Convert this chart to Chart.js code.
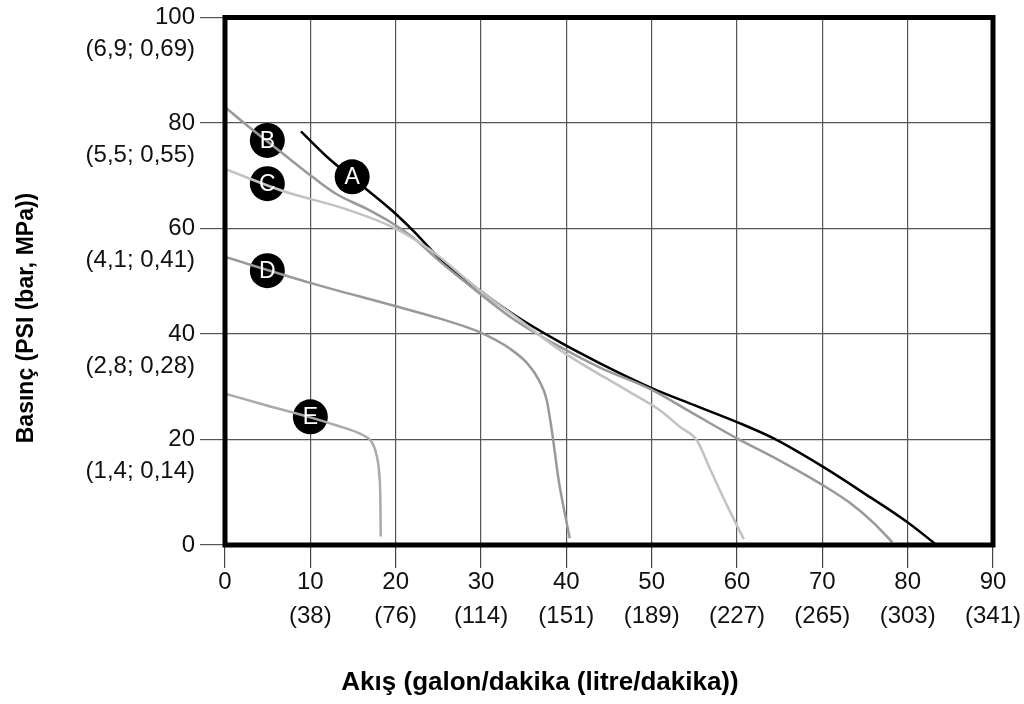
<!DOCTYPE html>
<html>
<head>
<meta charset="utf-8">
<script src="https://cdn.jsdelivr.net/npm/chart.js@4.4.1/dist/chart.umd.min.js"></script>
<style>
  html, body { margin: 0; padding: 0; background: #fff; }
  #wrap { width: 1024px; height: 704px; }
</style>
</head>
<body>
<div id="wrap"><canvas id="pompaChart" width="1024" height="704"></canvas></div>
<script>
// debi (galon/dakika) ve basınç (PSI) değerleri, eğri başına
const aX = [8.9, 12, 16.6, 19.5, 22.1, 25, 29.9, 34, 39.3, 44, 49.8, 55, 60, 64.3, 70.1, 75, 79.9, 83.4];
const aY = [78.4, 73.5, 67.4, 63.5, 59.5, 54.6, 48.2, 43.5, 38.4, 34.4, 29.9, 26.5, 23.3, 20.2, 14.8, 9.7, 4.4, 0];

const bX = [0, 3, 6.4, 10.4, 13.1, 16.5, 19.7, 22.1, 25, 29.9, 34, 39.3, 44, 49.8, 55, 60, 65, 70.1, 73.3, 76, 78.2];
const bY = [83, 79, 74.7, 69.6, 66.5, 63.8, 60.9, 58.2, 54, 47.6, 42.6, 37.5, 33.6, 29.6, 24.8, 20.2, 16, 11.3, 7.9, 4.2, 0.5];

const cX = [0, 6.8, 14.3, 19.7, 24, 29.9, 34, 39.3, 47.1, 51, 53.3, 55.3, 56.9, 58.8, 60.8];
const cY = [71.3, 67.1, 63.6, 60.2, 56, 48.2, 43.3, 36.9, 29.3, 25.5, 22.4, 19.8, 14.2, 7.6, 1.1];

const dX = [0, 10, 19.7, 25, 29.9, 33.4, 35.5, 36.8, 37.7, 38.3, 39.1, 40.4];
const dY = [54.6, 49.7, 45.4, 43, 40.3, 37.2, 34.3, 31.2, 27.5, 21.7, 12.3, 1.3];

const eX = [0, 5, 10, 13, 16.2, 17.2, 17.8, 18.1, 18.2, 18.25];
const eY = [28.7, 26.4, 24.2, 22.7, 20.8, 19.5, 16.8, 13, 9.1, 1.6];

// eğri etiketleri (siyah daireler)
const markerLabels = ['A', 'B', 'C', 'D', 'E'];
const markerX = [14.9, 4.96, 4.96, 4.96, 10];
const markerY = [69.8, 76.7, 68.5, 52.0, 24.3];

// eksen etiketleri
const xTicks = [0, 10, 20, 30, 40, 50, 60, 70, 80, 90];
const xLitre = ['', '(38)', '(76)', '(114)', '(151)', '(189)', '(227)', '(265)', '(303)', '(341)'];
const yTicks = [0, 20, 40, 60, 80, 100];
const yBarMpa = ['', '(1,4; 0,14)', '(2,8; 0,28)', '(4,1; 0,41)', '(5,5; 0,55)', '(6,9; 0,69)'];

const xTitle = 'Akış (galon/dakika (litre/dakika))';
const yTitle = 'Basınç (PSI (bar, MPa))';

const fontFamily = '"Liberation Sans", Arial, Helvetica, sans-serif';

function toPoints(xs, ys) {
    return xs.map((x, i) => ({ x: x, y: ys[i] }));
}

function curve(data, color) {
    return {
        data: data,
        showLine: true,
        borderColor: color,
        borderWidth: 2.5,
        pointRadius: 0,
        cubicInterpolationMode: 'monotone',
        fill: false
    };
}

const frameAndTitles = {
    id: 'frameAndTitles',
    afterDatasetsDraw(chart) {
        const ctx = chart.ctx;
        const area = chart.chartArea;
        ctx.save();
        // kalın çerçeve
        ctx.strokeStyle = '#000';
        ctx.lineWidth = 5;
        ctx.strokeRect(area.left, area.top, area.right - area.left, area.bottom - area.top);

        // daire içindeki harfler
        const meta = chart.getDatasetMeta(5);
        ctx.fillStyle = '#fff';
        ctx.font = '23px ' + fontFamily;
        ctx.textAlign = 'center';
        ctx.textBaseline = 'middle';
        meta.data.forEach((pt, i) => {
            ctx.fillText(markerLabels[i], pt.x, pt.y + 1);
        });

        // eksen başlıkları
        ctx.fillStyle = '#000';
        ctx.font = 'bold 26px ' + fontFamily;
        ctx.fillText(xTitle, 540, 683);
        ctx.font = 'bold 23px ' + fontFamily;
        ctx.translate(27, 318);
        ctx.rotate(-Math.PI / 2);
        ctx.fillText(yTitle, 0, 0);
        ctx.restore();
    }
};

const ctx = document.getElementById('pompaChart').getContext('2d');
const pompaChart = new Chart(ctx, {
    type: 'scatter',
    data: {
        datasets: [
            curve(toPoints(eX, eY), '#aaaaaa'),
            curve(toPoints(dX, dY), '#999999'),
            curve(toPoints(cX, cY), '#c2c2c2'),
            curve(toPoints(bX, bY), '#999999'),
            curve(toPoints(aX, aY), '#000000'),
            {
                data: toPoints(markerX, markerY),
                showLine: false,
                pointRadius: 17.5,
                pointHoverRadius: 17.5,
                backgroundColor: '#000',
                borderWidth: 0
            }
        ]
    },
    options: {
        responsive: false,
        animation: false,
        events: [],
        layout: { padding: { left: 0, top: 16, right: 31, bottom: 0 } },
        plugins: {
            legend: { display: false },
            tooltip: { enabled: false }
        },
        scales: {
            x: {
                type: 'linear',
                min: 0,
                max: 90,
                afterFit(scale) {
                    scale.height = 159;
                    scale.paddingLeft = 0;
                    scale.paddingRight = 0;
                },
                afterBuildTicks(scale) { scale.ticks = xTicks.map(v => ({ value: v })); },
                grid: { color: '#555', lineWidth: 1.2, tickLength: 23, tickColor: '#444' },
                border: { display: false },
                ticks: {
                    padding: -3,
                    color: '#111',
                    maxRotation: 0,
                    autoSkip: false,
                    font: { family: fontFamily, size: 24, lineHeight: '34px' },
                    callback(value) {
                        const i = xTicks.indexOf(value);
                        return [String(value), i >= 0 ? xLitre[i] : ''];
                    }
                }
            },
            y: {
                type: 'linear',
                min: 0,
                max: 100,
                afterFit(scale) {
                    scale.width = 225;
                    scale.paddingTop = 0;
                    scale.paddingBottom = 0;
                },
                afterBuildTicks(scale) { scale.ticks = yTicks.map(v => ({ value: v })); },
                grid: { color: '#555', lineWidth: 1.2, tickLength: 25, tickColor: '#555' },
                border: { display: false },
                ticks: {
                    padding: 5,
                    labelOffset: 16,
                    color: '#111',
                    autoSkip: false,
                    font: { family: fontFamily, size: 24, lineHeight: '32px' },
                    callback(value) {
                        const i = yTicks.indexOf(value);
                        return [String(value), i >= 0 ? yBarMpa[i] : ''];
                    }
                }
            }
        }
    },
    plugins: [frameAndTitles]
});
</script>
</body>
</html>
